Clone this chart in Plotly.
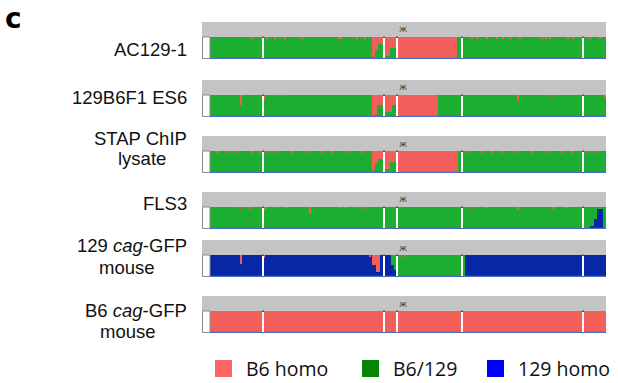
import plotly.graph_objects as go

W, H = 618, 383

# ---------------- data ----------------
track_labels = [["AC129-1"], ["129B6F1 ES6"], ["STAP ChIP", "lysate"], ["FLS3"],
                ["129 <i>cag</i>-GFP", "mouse"], ["B6 <i>cag</i>-GFP", "mouse"]]
legend_names = ["B6 homo", "B6/129", "129 homo"]

# genomic position units (0 .. 404); each segment: (start, end, B6 homo frac, 129 homo frac)
ac129_segments = [(8, 170, 0, 0), (170, 173, 0.9, 0), (173, 176, 0.6, 0), (176, 182, 0.3, 0),
                  (182, 188, 0.85, 0), (188, 195, 0.5, 0), (195, 255, 1, 0), (255, 404, 0, 0)]
ac129_spikes = [(50, 0.08), (65, 0.1), (73, 0.06), (83, 0.06), (100, 0.06), (137, 0.06), (139, 0.06),
                (155, 0.05), (163, 0.05), (270, 0.06), (275, 0.05), (285, 0.06), (295, 0.05),
                (301, 0.05), (308, 0.06), (318, 0.05), (340, 0.1), (344, 0.1), (348, 0.08),
                (366, 0.06), (371, 0.06), (388, 0.08), (398, 0.08)]

es6_segments = [(8, 170, 0, 0), (170, 175, 0.9, 0), (175, 182, 0.45, 0), (182, 190, 0.75, 0),
                (190, 195, 0.45, 0), (195, 236, 1, 0), (236, 404, 0, 0)]
es6_spikes = [(39, 0.45), (62, 0.2), (73, 0.04), (83, 0.04), (316, 0.25), (350, 0.08), (403, 0.15)]

stap_segments = [(8, 170, 0, 0), (170, 173, 0.85, 0), (173, 176, 0.55, 0), (176, 182, 0.35, 0),
                 (182, 188, 0.8, 0), (188, 195, 0.5, 0), (195, 256, 1, 0), (256, 404, 0, 0)]
stap_spikes = [(15, 0.06), (25, 0.05), (35, 0.06), (50, 0.07), (58, 0.05), (65, 0.08), (75, 0.05),
               (90, 0.06), (105, 0.05), (120, 0.06), (130, 0.05), (145, 0.06), (160, 0.05),
               (265, 0.06), (280, 0.05), (290, 0.06), (300, 0.05), (315, 0.06), (330, 0.05),
               (345, 0.07), (360, 0.05), (370, 0.06), (385, 0.06), (395, 0.06)]

fls3_segments = [(8, 388, 0, 0), (388, 392, 0, 0.15), (392, 395, 0, 0.45), (395, 401, 0, 0.95),
                 (401, 404, 0, 0)]
fls3_spikes = [(38, 0.05), (48, 0.05), (63, 0.12), (75, 0.04), (85, 0.04), (108, 0.3), (138, 0.04),
               (143, 0.04), (155, 0.04), (163, 0.05), (270, 0.05), (285, 0.04), (316, 0.15),
               (351, 0.1), (365, 0.04)]

gfp129_segments = [(8, 170, 0, 1), (170, 174, 0.45, 0.55), (174, 178, 0.75, 0.25), (178, 189, 0, 1),
                   (189, 192, 0, 0.55), (192, 195, 0, 0.3), (195, 263, 0, 0), (263, 404, 0, 1)]
gfp129_spikes = [(39, 0.4), (62, 0.12), (168, 0.05), (203, 0.05)]

gfpb6_segments = [(8, 404, 1, 0)]
gfpb6_spikes = []

tracks = [(ac129_segments, ac129_spikes), (es6_segments, es6_spikes), (stap_segments, stap_spikes),
          (fls3_segments, fls3_spikes), (gfp129_segments, gfp129_spikes), (gfpb6_segments, gfpb6_spikes)]

gap_positions = [61, 182, 195, 260, 381]

# ---------------- styling / layout ----------------
RED, GREEN, BLUE = "#f25e5a", "#1bae30", "#0628a7"
LEG_COLORS = ["#ff6464", "#068406", "#0000ff"]
X_LEFT, X_RIGHT = 202, 606
track_tops = [22, 80, 136, 192, 240, 296]
HEAD, BODY = 15, 22
YMAX = 1 + HEAD / BODY

label_rows = [[(189, 50, "r")], [(189, 98, "r")], [(189, 138, "r"), (142, 158, "c")],
              [(189, 203, "r")], [(189, 245, "r"), (127, 267, "c")], [(189, 310, "r"), (128, 331, "c")]]

fig = go.Figure()
shapes, annotations = [], []

for i, (segs, spikes) in enumerate(tracks):
    ya = "y" if i == 0 else f"y{i + 1}"
    cx = [(s + e) / 2 for s, e, b, h in segs]
    wd = [e - s for s, e, b, h in segs]
    b6 = [b for s, e, b, h in segs]
    h129 = [h for s, e, b, h in segs]
    het = [1 - b - h for b, h in zip(b6, h129)]
    fig.add_trace(go.Bar(x=cx, y=h129, base=[0] * len(cx), width=wd, marker=dict(color=BLUE, line_width=0),
                         yaxis=ya, showlegend=False, hoverinfo="skip"))
    fig.add_trace(go.Bar(x=cx, y=het, base=h129, width=wd, marker=dict(color=GREEN, line_width=0),
                         yaxis=ya, showlegend=False, hoverinfo="skip"))
    fig.add_trace(go.Bar(x=cx, y=b6, base=[1 - b for b in b6], width=wd, marker=dict(color=RED, line_width=0),
                         yaxis=ya, showlegend=False, hoverinfo="skip"))
    if spikes:
        sp = [p for p, d in spikes]
        sd = [d for p, d in spikes]
        fig.add_trace(go.Bar(x=sp, y=sd, base=[1 - d for d in sd], width=1.6,
                             marker=dict(color=RED, line_width=0), yaxis=ya, showlegend=False, hoverinfo="skip"))

    yref = ya
    # header
    shapes.append(dict(type="rect", xref="x", yref=yref, x0=0, x1=404, y0=1, y1=YMAX,
                       fillcolor="#c4c4c4", line_width=0, layer="below"))
    # unsequenced start box
    shapes.append(dict(type="rect", xref="x", yref=yref, x0=0.5, x1=8, y0=0.02, y1=1,
                       fillcolor="white", line=dict(color="#8a8a8a", width=1)))
    # baseline
    shapes.append(dict(type="line", xref="x", yref=yref, x0=8, x1=404, y0=0.02, y1=0.02,
                       line=dict(color="#4a6cc8", width=1.5)))
    for g in gap_positions:
        shapes.append(dict(type="line", xref="x", yref=yref, x0=g, x1=g, y0=0.03, y1=0.97,
                           line=dict(color="white", width=2)))
        shapes.append(dict(type="line", xref="x", yref=yref, x0=g, x1=g, y0=0.95, y1=1.02,
                           line=dict(color="#555555", width=2)))
        shapes.append(dict(type="line", xref="x", yref=yref, x0=g, x1=g, y0=-0.02, y1=0.05,
                           line=dict(color="#555555", width=2)))
    annotations.append(dict(x=201, y=(1 + YMAX) / 2, xref="x", yref=yref, text="ж", showarrow=False,
                            font=dict(size=9, color="#444444", family="DejaVu Sans")))
    for (lx, ly, mode), txt in zip(label_rows[i], track_labels[i]):
        annotations.append(dict(x=lx / W, y=1 - ly / H, xref="paper", yref="paper", text=txt,
                                showarrow=False, xanchor="right" if mode == "r" else "center",
                                yanchor="middle", font=dict(size=18.5, color="#111111",
                                                            family="Liberation Sans, Arial")))

# panel letter
annotations.append(dict(x=3 / W, y=1 - 18 / H, xref="paper", yref="paper", text="<b>c</b>", showarrow=False,
                        xanchor="left", yanchor="middle",
                        font=dict(size=28, color="black", family="DejaVu Sans")))

# legend
leg_x = [215, 362, 487]
for lx, name, col in zip(leg_x, legend_names, LEG_COLORS):
    shapes.append(dict(type="rect", xref="paper", yref="paper", x0=lx / W, x1=(lx + 17) / W,
                       y0=1 - 377 / H, y1=1 - 360 / H, fillcolor=col, line_width=0))
    annotations.append(dict(x=(lx + 29) / W, y=1 - 368 / H, xref="paper", yref="paper", text=name,
                            showarrow=False, xanchor="left", yanchor="middle",
                            font=dict(size=19.5, color="#111111", family="Open Sans")))

layout = dict(
    width=W, height=H, autosize=False,
    margin=dict(l=0, r=0, t=0, b=0),
    paper_bgcolor="white", plot_bgcolor="rgba(0,0,0,0)",
    barmode="overlay", bargap=0,
    xaxis=dict(domain=[X_LEFT / W, X_RIGHT / W], range=[0, 404], visible=False, fixedrange=True),
    shapes=shapes, annotations=annotations, showlegend=False,
)
for i, top in enumerate(track_tops):
    key = "yaxis" if i == 0 else f"yaxis{i + 1}"
    layout[key] = dict(domain=[1 - (top + HEAD + BODY) / H, 1 - top / H], range=[0, YMAX],
                       visible=False, fixedrange=True, anchor="x")
fig.update_layout(**layout)
fig.write_html("out.html", config={"displayModeBar": False},
               post_script="document.body.style.margin='0';document.body.style.overflow='hidden';")
